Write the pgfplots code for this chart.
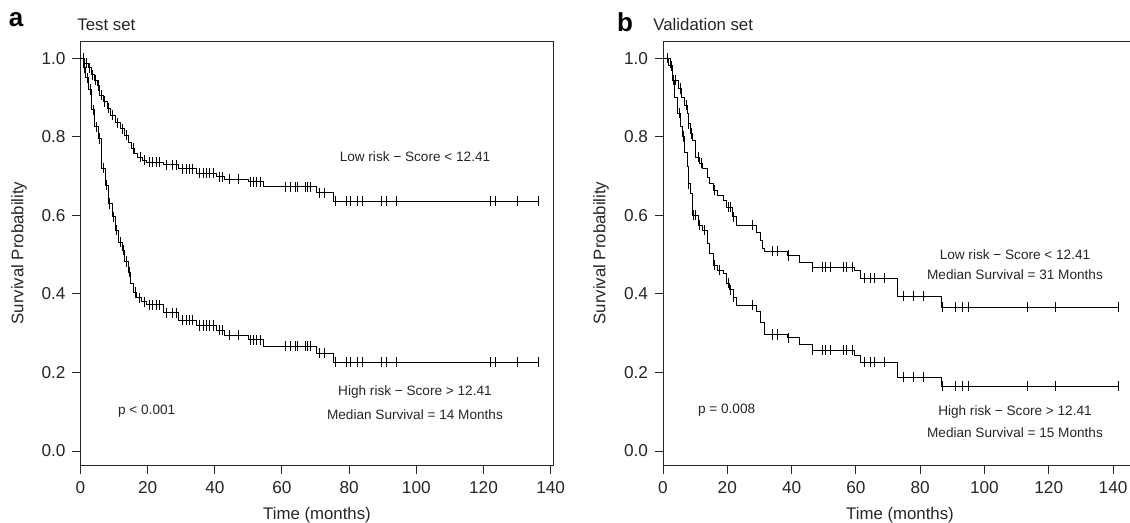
\documentclass[border=0pt]{standalone}
\usepackage{fontspec}
\setmainfont{Liberation Sans}
\usepackage{pgfplots}
\pgfplotsset{compat=1.18}

% Kaplan-Meier steps (time in months, survival)
\pgfplotstableread{
t s
0 1
1.3 0.987
2.3 0.975
3.4 0.957
4.1 0.944
5 0.93
5.8 0.906
6.8 0.89
7.9 0.873
8.8 0.855
10.3 0.835
11.8 0.82
13.2 0.804
14.2 0.786
15.3 0.77
16.2 0.758
17.1 0.748
18.6 0.74
19.7 0.735
24.6 0.728
29.1 0.718
34.6 0.707
40.5 0.698
43 0.692
49.9 0.685
54.4 0.672
70.3 0.657
75.2 0.636
136.5 0.636
}\testlow
\pgfplotstableread{
t s
0 1
0.8 0.975
1.5 0.95
2.3 0.92
3.4 0.868
4.3 0.825
5.3 0.795
6.4 0.72
7.3 0.677
8.2 0.63
9.4 0.596
10.3 0.562
11.2 0.532
12.4 0.511
13.2 0.482
14.2 0.455
15 0.427
15.9 0.403
16.8 0.39
18.3 0.38
19.7 0.372
24.6 0.352
29.1 0.333
34.6 0.32
40.5 0.308
43 0.295
49.9 0.283
54.4 0.267
70.3 0.249
75.2 0.226
136.5 0.226
}\testhigh
\pgfplotstableread{
t s
0 1
2.2 0.977
3.1 0.944
4.7 0.923
5.9 0.9
6.8 0.88
7.5 0.86
7.8 0.834
8.7 0.808
9.3 0.79
10 0.748
11.5 0.733
12.4 0.72
13.7 0.697
14.6 0.68
15.6 0.664
16.8 0.651
18.7 0.638
19.9 0.621
21.5 0.596
23 0.575
29.2 0.555
30.2 0.537
31.1 0.516
31.7 0.509
38.6 0.498
42.6 0.481
46.4 0.468
59.7 0.46
61.3 0.44
72.8 0.394
86.5 0.366
141.6 0.366
}\vallow
\pgfplotstableread{
t s
0 1
1.6 0.98
3.1 0.944
3.7 0.9
4.4 0.86
5.3 0.825
6.2 0.8
6.8 0.761
7.5 0.723
7.8 0.68
8.4 0.656
9.3 0.6
10.9 0.575
12.4 0.562
13.7 0.529
14.6 0.504
15.6 0.473
17.1 0.46
18.7 0.452
19.9 0.427
20.8 0.41
21.8 0.392
23 0.371
29.2 0.354
30.2 0.328
31.7 0.297
38.6 0.288
42.6 0.27
46.4 0.257
59.7 0.244
61.3 0.226
72.8 0.188
86.5 0.165
141.6 0.165
}\valhigh

\pgfplotsset{
  km/.style={
    scale only axis, axis line style={line width=0.5pt, black!85},
    ymin=-0.038, ymax=1.041, height=212pt,
    xmin=0, xtick={0,20,...,140},
    ytick={0,0.2,...,1}, yticklabel style={/pgf/number format/.cd, fixed, fixed zerofill, precision=1},
    /pgf/number format/assume math mode=true,
    tick align=outside, xtick pos=bottom, ytick pos=left,
    major tick length=4pt, tick style={line width=0.5pt, black!85},
    tick label style={font=\fontsize{8.6}{10}\selectfont, black!85},
    every axis plot/.append style={line width=0.5pt, black},
    clip=false,
  },
  cens/.style={only marks, mark=|, mark size=2.6pt, mark options={line width=0.5pt}},
}

\begin{document}
\begin{tikzpicture}
\path[use as bounding box] (0,0) rectangle (565pt,261.5pt);

% panel a
\begin{axis}[km, at={(40.25pt,28.5pt)}, anchor=south west, width=236.25pt, xmax=140.7]
\addplot[const plot] table {\testlow};
\addplot[const plot] table {\testhigh};
\addplot[cens] coordinates {(1,1) (1.8,0.987) (2.8,0.975) (3.7,0.957) (4.5,0.944) (5.4,0.93) (6.2,0.906) (7.2,0.89) (8.3,0.873) (9.5,0.855) (11,0.835) (12.5,0.82) (13.8,0.804) (15.8,0.77) (17.8,0.748) (19,0.74) (20.5,0.735) (21.5,0.735) (22.5,0.735) (23.5,0.735) (25.5,0.728) (27.5,0.728) (28.5,0.728) (30.5,0.718) (31.5,0.718) (32.5,0.718) (33.5,0.718) (35.5,0.707) (36.5,0.707) (37.5,0.707) (38.5,0.707) (39.5,0.707) (41.5,0.698) (42.2,0.698) (44.5,0.692) (47,0.692) (50.5,0.685) (51.5,0.685) (52.5,0.685) (53.5,0.685) (61,0.672) (62.4,0.672) (63.9,0.672) (64.5,0.672) (66.9,0.672) (67.7,0.672) (68.6,0.672) (71.3,0.657) (72.8,0.657) (76,0.636) (79.3,0.636) (80.5,0.636) (82.5,0.636) (84,0.636) (89.5,0.636) (91,0.636) (94,0.636) (122,0.636) (123.5,0.636) (130,0.636) (136.5,0.636)};
\addplot[cens] coordinates {(1.1,0.975) (2,0.95) (2.9,0.92) (3.9,0.868) (4.8,0.825) (5.8,0.795) (6.9,0.72) (7.8,0.677) (8.7,0.63) (9.9,0.596) (10.8,0.562) (11.8,0.532) (12.8,0.511) (13.7,0.482) (14.6,0.455) (16.3,0.403) (17.5,0.39) (19,0.38) (20.5,0.372) (21.5,0.372) (22.5,0.372) (23.5,0.372) (25.5,0.352) (27.5,0.352) (28.5,0.352) (30.5,0.333) (31.5,0.333) (32.5,0.333) (33.5,0.333) (35.5,0.32) (36.5,0.32) (37.5,0.32) (38.5,0.32) (39.5,0.32) (41.5,0.308) (42.2,0.308) (44.5,0.295) (47,0.295) (50.5,0.283) (51.5,0.283) (52.5,0.283) (53.5,0.283) (61,0.267) (62.4,0.267) (63.9,0.267) (64.5,0.267) (66.9,0.267) (67.7,0.267) (68.6,0.267) (71.3,0.249) (72.8,0.249) (76,0.226) (79.3,0.226) (80.5,0.226) (82.5,0.226) (84,0.226) (89.5,0.226) (91,0.226) (94,0.226) (122,0.226) (123.5,0.226) (130,0.226) (136.5,0.226)};
\begin{scope}[every node/.style={font=\fontsize{6.8}{8}\selectfont, text=black!85}]
\node at (axis cs:99.6,0.748) {Low risk − Score < 12.41};
\node at (axis cs:99.6,0.15) {High risk − Score > 12.41};
\node at (axis cs:99.6,0.092) {Median Survival = 14 Months};
\node at (axis cs:19.7,0.102) {p < 0.001};
\end{scope}
\end{axis}

% panel b
\begin{axis}[km, at={(331.5pt,28.5pt)}, anchor=south west, width=239pt, xmax=148.7]
\addplot[const plot] table {\vallow};
\addplot[const plot] table {\valhigh};
\addplot[cens] coordinates {(1.5,1) (4,0.944) (5.5,0.923) (7.2,0.88) (8,0.834) (9,0.808) (11,0.748) (12,0.733) (16,0.664) (20.5,0.621) (21,0.621) (22,0.596) (27.7,0.575) (34.2,0.509) (35.5,0.509) (39,0.498) (46.4,0.468) (49.5,0.468) (50.4,0.468) (52,0.468) (56,0.468) (57.2,0.468) (58.8,0.468) (62.8,0.44) (64.4,0.44) (65.9,0.44) (69,0.44) (74.7,0.394) (77.8,0.394) (80.9,0.394) (86.8,0.366) (90.9,0.366) (93.3,0.366) (94.9,0.366) (113.3,0.366) (122,0.366) (141.6,0.366)};
\addplot[cens] coordinates {(2.5,0.98) (3.4,0.944) (5,0.86) (6.5,0.8) (8,0.68) (9.6,0.6) (10,0.6) (11.5,0.575) (13,0.562) (16,0.473) (17.5,0.46) (20.5,0.427) (21,0.41) (22,0.392) (27.7,0.371) (34.2,0.297) (35.5,0.297) (39,0.288) (46.4,0.257) (49.5,0.257) (50.4,0.257) (52,0.257) (56,0.257) (57.2,0.257) (58.8,0.257) (62.8,0.226) (64.4,0.226) (65.9,0.226) (69,0.226) (74.7,0.188) (77.8,0.188) (80.9,0.188) (86.8,0.165) (90.9,0.165) (93.3,0.165) (94.9,0.165) (113.3,0.165) (122,0.165) (141.6,0.165)};
\begin{scope}[every node/.style={font=\fontsize{6.8}{8}\selectfont, text=black!85}]
\node at (axis cs:109.5,0.499) {Low risk − Score < 12.41};
\node at (axis cs:109.5,0.45) {Median Survival = 31 Months};
\node at (axis cs:109.5,0.099) {High risk − Score > 12.41};
\node at (axis cs:109.5,0.048) {Median Survival = 15 Months};
\node at (axis cs:19.8,0.104) {p = 0.008};
\end{scope}
\end{axis}

% labels and titles
\begin{scope}[every node/.style={text=black!85}]
\node[font=\fontsize{8.4}{10}\selectfont, rotate=90] at (9.5pt,135pt) {Survival Probability};
\node[font=\fontsize{8.4}{10}\selectfont, rotate=90] at (300.5pt,135pt) {Survival Probability};
\node[font=\fontsize{8.4}{10}\selectfont] at (158.5pt,4pt) {Time (months)};
\node[font=\fontsize{8.4}{10}\selectfont] at (450pt,4pt) {Time (months)};
\node[font=\fontsize{8.4}{10}\selectfont, anchor=west, inner sep=0pt] at (38.5pt,249pt) {Test set};
\node[font=\fontsize{8.4}{10}\selectfont, anchor=west, inner sep=0pt] at (326.5pt,249pt) {Validation set};
\end{scope}
\node[font=\fontsize{13}{15}\bfseries] at (8pt,251.5pt) {a};
\node[font=\fontsize{13}{15}\bfseries] at (312.5pt,250.5pt) {b};
\end{tikzpicture}
\end{document}
